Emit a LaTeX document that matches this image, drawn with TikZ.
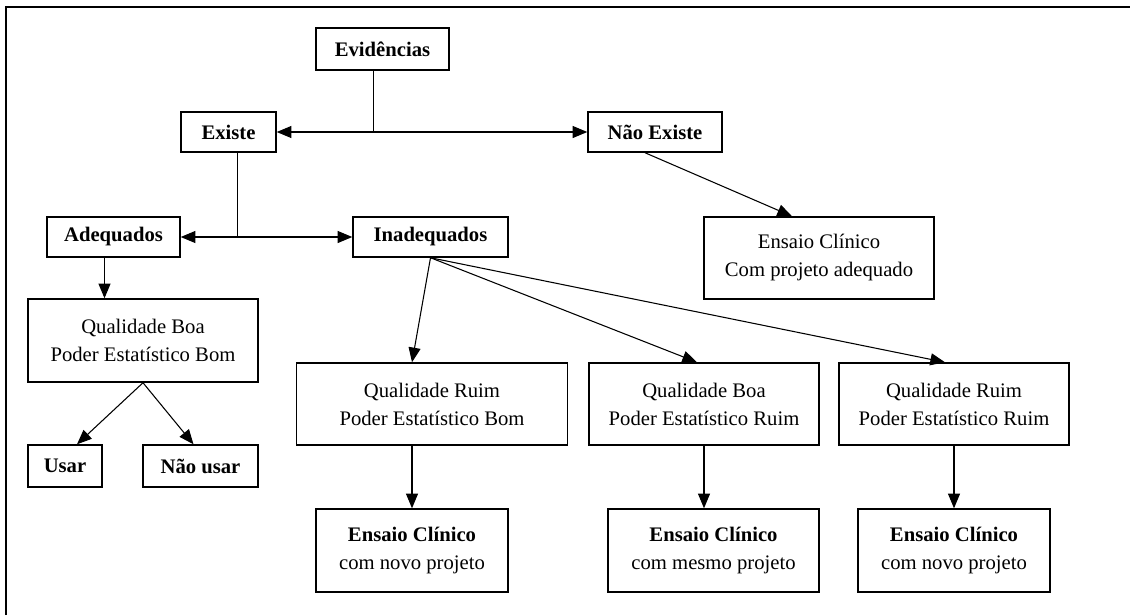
\documentclass[tikz,border=0pt]{standalone}
\usepackage{fontspec}
\setmainfont{Liberation Serif}
\usetikzlibrary{arrows.meta}

\begin{document}
\begin{tikzpicture}[
  x=0.75pt, y=-0.75pt,
  box/.style={
    draw, line width=1.1pt, align=center, inner sep=0pt,
    font=\fontsize{15.5pt}{21pt}\selectfont
  },
  tag/.style={box, font=\fontsize{15.5pt}{21pt}\selectfont\bfseries},
  link/.style={line width=0.8pt, -{Triangle[length=11pt, width=9pt]}},
  wire/.style={line width=0.8pt}
]
  \useasboundingbox (0,0) rectangle (1130,615);
  \draw[line width=1.5pt] (6,615) -- (6,7) -- (1130,7);

  % --- Nodes ---
  \node[tag, minimum width=99.75pt, minimum height=31.5pt] (evid) at (382.5,49) {Evidências};
  \node[tag, minimum width=71.25pt, minimum height=30pt] (existe) at (228.5,132) {Existe};
  \node[tag, minimum width=100.5pt, minimum height=30pt] (naoex) at (655,132) {Não Existe};
  \node[tag, minimum width=99.75pt, minimum height=30pt] (adeq) at (113.5,237) {Adequados};
  \node[tag, minimum width=116.25pt, minimum height=30pt] (inadeq) at (430.5,237) {Inadequados};

  \node[box, minimum width=172.5pt, minimum height=61.5pt] (ecpa) at (819,258) {
    Ensaio Clínico\\
    Com projeto adequado
  };

  \node[box, minimum width=172.5pt, minimum height=62.25pt] (qbb) at (143,340.5) {
    Qualidade Boa\\
    Poder Estatístico Bom
  };
  \node[tag, minimum width=55.5pt, minimum height=31.5pt] (usar) at (65,466) {Usar};
  \node[tag, minimum width=86.25pt, minimum height=31.5pt] (naousar) at (200.5,466) {Não usar};

  \node[box, minimum width=203.25pt, minimum height=61.5pt] (qrb) at (432,404) {
    Qualidade Ruim\\
    Poder Estatístico Bom
  };
  \node[box, minimum width=172.5pt, minimum height=61.5pt] (qbr) at (704,404) {
    Qualidade Boa\\
    Poder Estatístico Ruim
  };
  \node[box, minimum width=172.5pt, minimum height=61.5pt] (qrr) at (954,404) {
    Qualidade Ruim\\
    Poder Estatístico Ruim
  };

  \node[box, minimum width=144pt, minimum height=62.25pt] (ec1) at (412,550.5) {
    \textbf{Ensaio Clínico}\\
    com novo projeto
  };
  \node[box, minimum width=158.25pt, minimum height=62.25pt] (ec2) at (713.5,550.5) {
    \textbf{Ensaio Clínico}\\
    com mesmo projeto
  };
  \node[box, minimum width=144pt, minimum height=62.25pt] (ec3) at (954,550.5) {
    \textbf{Ensaio Clínico}\\
    com novo projeto
  };

  % --- Connectors ---
  % evidencias -> existe / nao existe
  \coordinate (etop) at ([xshift=-6.75pt]evid.south);
  \coordinate (j1) at (etop |- existe.east);
  \draw[wire] (etop) -- (j1);
  \draw[link] (j1) -- (existe.east);
  \draw[link] (j1) -- (naoex.west);

  % existe -> adequados / inadequados
  \coordinate (xbot) at ([xshift=6.75pt]existe.south);
  \coordinate (j2) at (xbot |- adeq.east);
  \draw[wire] (xbot) -- (j2);
  \draw[link] (j2) -- (adeq.east);
  \draw[link] (j2) -- (inadeq.west);

  % nao existe -> ensaio
  \draw[link] ([xshift=-7.5pt]naoex.south) -- ([xshift=-20.25pt]ecpa.north);

  % adequados branch
  \coordinate (abot) at ([xshift=-6.75pt]adeq.south);
  \draw[link] (abot) -- (abot |- qbb.north);
  \draw[link] (qbb.south) -- ([xshift=9pt]usar.north);
  \draw[link] (qbb.south) -- ([xshift=-5.25pt]naousar.north);

  % inadequados branch
  \draw[link] (inadeq.south) -- (ec1.north |- qrb.north);
  \draw[link] (inadeq.south) -- ([xshift=-5.25pt]qbr.north);
  \draw[link] (inadeq.south) -- ([xshift=-6.75pt]qrr.north);

  \draw[link] (ec1.north |- qrb.south) -- (ec1.north);
  \draw[link] (qbr.south) -- (qbr.south |- ec2.north);
  \draw[link] (qrr.south) -- (ec3.north);

\end{tikzpicture}
\end{document}
